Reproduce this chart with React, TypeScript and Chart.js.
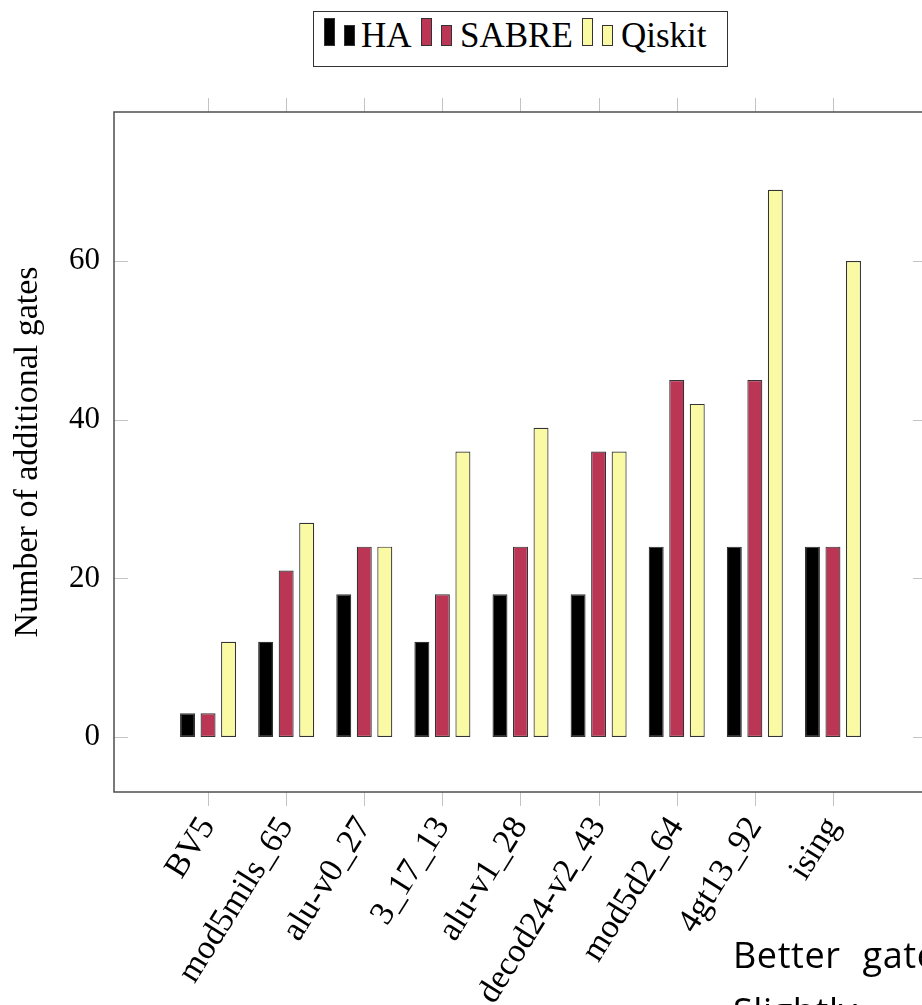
import React, { useEffect, useRef } from "react";
import { Chart, registerables } from "chart.js";

Chart.register(...registerables);

const categories = [
  "BV5",
  "mod5mils_65",
  "alu-v0_27",
  "3_17_13",
  "alu-v1_28",
  "decod24-v2_43",
  "mod5d2_64",
  "4gt13_92",
  "ising",
];
const haValues = [3, 12, 18, 12, 18, 18, 24, 24, 24];
const sabreValues = [3, 21, 24, 18, 24, 36, 45, 45, 24];
const qiskitValues = [12, 27, 24, 36, 39, 36, 42, 69, 60];
const yTicks = [0, 20, 40, 60];
const seriesNames = ["HA", "SABRE", "Qiskit"];

const COLORS = ["#000000", "#ba3654", "#fafaa5"];
const BORDER = "#333333";
const SERIF = "'Liberation Serif', 'Times New Roman', serif";

const W = 940;
const H = 1005;

const framePlugin = {
  id: "frameTicks",
  afterDraw(chart: any) {
    const { ctx, chartArea } = chart;
    const { left, right, top, bottom } = chartArea;
    const xs = chart.scales.x;
    const ys = chart.scales.y;
    ctx.save();
    ctx.strokeStyle = "#c4c4c4";
    ctx.lineWidth = 1;
    ctx.beginPath();
    categories.forEach((_, i) => {
      const px = Math.round(xs.getPixelForValue(i)) + 0.5;
      ctx.moveTo(px, top - 14);
      ctx.lineTo(px, top);
      ctx.moveTo(px, bottom);
      ctx.lineTo(px, bottom + 14);
    });
    yTicks.forEach((v) => {
      const py = Math.round(ys.getPixelForValue(v)) + 0.5;
      ctx.moveTo(left, py);
      ctx.lineTo(left + 14, py);
      ctx.moveTo(right - 14, py);
      ctx.lineTo(right, py);
    });
    ctx.stroke();
    ctx.strokeStyle = "#4d4d4d";
    ctx.lineWidth = 1.5;
    ctx.strokeRect(left, top, right - left, bottom - top);
    ctx.restore();
  },
};

function LegendBox() {
  const entries = [
    { name: seriesNames[0], color: COLORS[0], g1: 324, g2: 344, tx: 361 },
    { name: seriesNames[1], color: COLORS[1], g1: 421, g2: 441, tx: 460 },
    { name: seriesNames[2], color: COLORS[2], g1: 582, g2: 602, tx: 621 },
  ];
  return (
    <>
      <div
        style={{
          position: "absolute",
          left: 313,
          top: 11,
          width: 413,
          height: 54,
          border: "1px solid #333",
          background: "#fff",
        }}
      />
      {entries.map((e) => (
        <React.Fragment key={e.name}>
          <div
            style={{
              position: "absolute",
              left: e.g1,
              top: 18,
              width: 9,
              height: 26,
              border: `1px solid ${BORDER}`,
              background: e.color,
            }}
          />
          <div
            style={{
              position: "absolute",
              left: e.g2,
              top: 25,
              width: 9,
              height: 19,
              border: `1px solid ${BORDER}`,
              background: e.color,
            }}
          />
          <span
            style={{
              position: "absolute",
              left: e.tx,
              top: 18,
              fontFamily: SERIF,
              fontSize: 35,
              lineHeight: "35px",
              color: "#000",
              whiteSpace: "nowrap",
            }}
          >
            {e.name}
          </span>
        </React.Fragment>
      ))}
    </>
  );
}

export default function App() {
  const canvasRef = useRef<HTMLCanvasElement | null>(null);

  useEffect(() => {
    const canvas = canvasRef.current;
    if (!canvas) return;
    const mk = (vals: number[]) => vals.map((v, i) => ({ x: i, y: v }));
    const chart = new Chart(canvas, {
      type: "bar",
      data: {
        datasets: [haValues, sabreValues, qiskitValues].map((vals, k) => ({
          label: seriesNames[k],
          data: mk(vals),
          backgroundColor: COLORS[k],
          borderColor: BORDER,
          borderWidth: 1.2,
          borderSkipped: false,
          categoryPercentage: 0.788,
          barPercentage: 0.73,
        })),
      },
      options: {
        responsive: false,
        animation: false,
        devicePixelRatio: 1,
        layout: { padding: { top: 112, right: W - 927, left: 0, bottom: 0 } },
        plugins: {
          legend: { display: false },
          tooltip: { enabled: false },
          title: { display: false },
        },
        scales: {
          x: {
            type: "linear",
            offset: false,
            min: -1.204,
            max: 9.204,
            grid: { display: false, drawTicks: false, offset: false },
            border: { display: false },
            afterBuildTicks: (scale: any) => {
              scale.ticks = categories.map((_, i) => ({ value: i }));
            },
            afterFit: (scale: any) => {
              scale.height = H - 792;
            },
            ticks: {
              autoSkip: false,
              minRotation: 58,
              maxRotation: 58,
              padding: 18,
              color: "#000",
              font: { family: SERIF, size: 34 },
              callback: (v: any) => categories[Math.round(Number(v))] ?? "",
            },
          },
          y: {
            type: "linear",
            min: -6.93,
            max: 78.8,
            grid: { display: false, drawTicks: false },
            border: { display: false },
            afterBuildTicks: (scale: any) => {
              scale.ticks = yTicks.map((v) => ({ value: v }));
            },
            afterFit: (scale: any) => {
              scale.width = 114;
            },
            ticks: {
              padding: 14,
              color: "#000",
              font: { family: SERIF, size: 31 },
            },
            title: {
              display: true,
              text: "Number of additional gates",
              color: "#000",
              font: { family: SERIF, size: 34, weight: "normal" },
              padding: { top: 8, bottom: 0 },
            },
          },
        },
      },
      plugins: [framePlugin],
    } as any);
    return () => chart.destroy();
  }, []);

  return (
    <div
      style={{
        position: "fixed",
        left: 0,
        top: 0,
        width: 922,
        height: 1005,
        overflow: "hidden",
        background: "#fff",
      }}
    >
      <canvas
        ref={canvasRef}
        width={W}
        height={H}
        style={{ position: "absolute", left: 0, top: 0, width: W, height: H }}
      />
      <LegendBox />
      <div
        style={{
          position: "absolute",
          left: 733,
          top: 927,
          fontFamily: "'Open Sans', sans-serif",
          fontSize: 36,
          lineHeight: "56px",
          wordSpacing: 12,
          letterSpacing: 0.6,
          color: "#000",
          whiteSpace: "nowrap",
        }}
      >
        <div>Better gate</div>
        <div>Slightly</div>
      </div>
    </div>
  );
}
